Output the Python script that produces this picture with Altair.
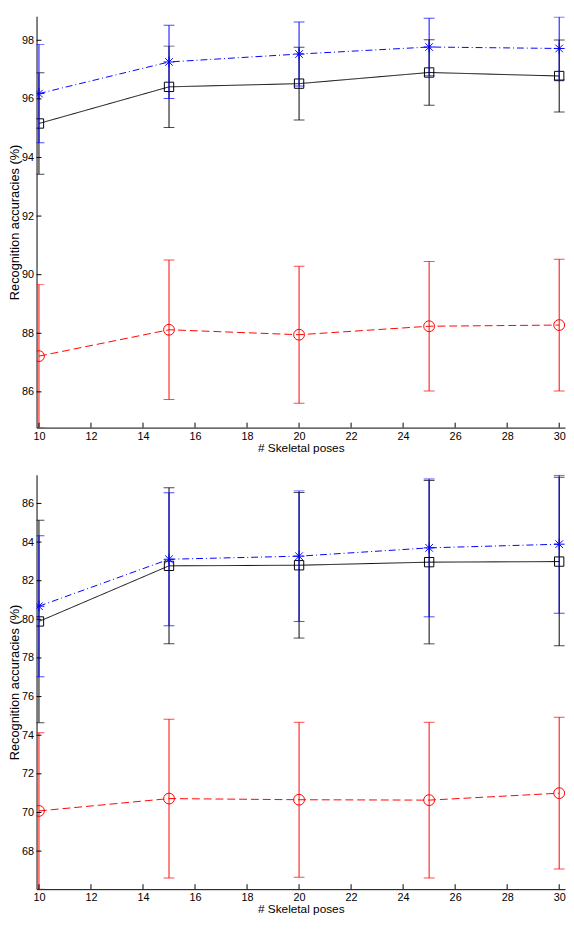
import altair as alt
import pandas as pd

# x positions (number of skeletal poses) and axis ticks
poses = [10, 15, 20, 25, 30]
x_ticks = [10, 12, 14, 16, 18, 20, 22, 24, 26, 28, 30]

# upper panel: mean accuracy and half error bar per series
top_black = [95.16, 96.41, 96.52, 96.90, 96.78]
top_black_err = [1.73, 1.39, 1.24, 1.12, 1.23]
top_blue = [96.18, 97.26, 97.53, 97.77, 97.72]
top_blue_err = [1.68, 1.25, 1.09, 0.98, 1.07]
top_red = [87.22, 88.12, 87.95, 88.24, 88.28]
top_red_err = [2.44, 2.38, 2.34, 2.21, 2.25]
top_y_ticks = [86, 88, 90, 92, 94, 96, 98]

# lower panel
bot_black = [79.89, 82.77, 82.80, 82.96, 82.99]
bot_black_err = [5.24, 4.04, 3.77, 4.23, 4.36]
bot_blue = [80.68, 83.11, 83.27, 83.70, 83.89]
bot_blue_err = [3.65, 3.44, 3.38, 3.57, 3.57]
bot_red = [70.08, 70.72, 70.66, 70.64, 71.00]
bot_red_err = [4.05, 4.11, 4.01, 4.03, 3.93]
bot_y_ticks = [68, 70, 72, 74, 76, 78, 80, 82, 84, 86]

FONT = "Liberation Sans"
WIDTH = 537
X_DOMAIN = [9.907, 30.224]
STAR = "M-1,0L1,0M0,-1L0,1M-0.7,-0.7L0.7,0.7M-0.7,0.7L0.7,-0.7"

# (color, marker shape, marker size, line dash)
styles = {
    "black": ("#000000", "square", 90, [1, 0]),
    "blue": ("#0000ff", STAR, 121, [7, 3, 1, 3]),
    "red": ("#ff0000", "circle", 121, [8, 4]),
}


def frame(means, errs):
    return pd.DataFrame({
        "x": poses,
        "m": means,
        "lo": [m - e for m, e in zip(means, errs)],
        "hi": [m + e for m, e in zip(means, errs)],
    })


def panel(series, y_ticks, y_domain, height):
    x_axis = alt.Axis(values=x_ticks, title="# Skeletal poses", labelPadding=3,
                      titlePadding=1, titleFontSize=12)
    y_axis = alt.Axis(values=y_ticks, format="d", title="Recognition accuracies (%)",
                      labelPadding=3, titlePadding=0, titleFontSize=13)
    x_scale = alt.Scale(domain=X_DOMAIN, nice=False, zero=False)
    y_scale = alt.Scale(domain=y_domain, nice=False, zero=False)

    def X(f):
        return alt.X(f"{f}:Q", scale=x_scale, axis=x_axis)

    def Y(f):
        return alt.Y(f"{f}:Q", scale=y_scale, axis=y_axis)

    layers = []
    for key, (means, errs) in series:
        color, shape, size, dash = styles[key]
        base = alt.Chart(frame(means, errs))
        layers += [
            base.mark_line(color=color, strokeWidth=1, strokeDash=dash, clip=True)
                .encode(x=X("x"), y=Y("m")),
            base.mark_rule(color=color, strokeWidth=1, clip=True)
                .encode(x=X("x"), y=Y("lo"), y2="hi"),
            base.mark_tick(color=color, orient="horizontal", size=11, thickness=1, clip=True)
                .encode(x=X("x"), y=Y("lo")),
            base.mark_tick(color=color, orient="horizontal", size=11, thickness=1, clip=True)
                .encode(x=X("x"), y=Y("hi")),
            base.mark_point(shape=shape, size=size, color=color, filled=False,
                            strokeWidth=1, opacity=1, clip=True)
                .encode(x=X("x"), y=Y("m")),
        ]

    # inward tick marks, as matlab draws them
    xt = alt.Chart(pd.DataFrame({"t": x_ticks})).mark_rule(color="black", strokeWidth=1).encode(
        x=X("t"), y=alt.value(height), y2=alt.value(height - 5))
    yt = alt.Chart(pd.DataFrame({"t": y_ticks})).mark_rule(color="black", strokeWidth=1).encode(
        y=Y("t"), x=alt.value(0), x2=alt.value(5))

    return alt.layer(*layers, xt, yt).properties(width=WIDTH, height=height)


top = panel(
    [("black", (top_black, top_black_err)),
     ("blue", (top_blue, top_blue_err)),
     ("red", (top_red, top_red_err))],
    top_y_ticks, [84.78, 98.82], 418)

bottom = panel(
    [("black", (bot_black, bot_black_err)),
     ("blue", (bot_blue, bot_blue_err)),
     ("red", (bot_red, bot_red_err))],
    bot_y_ticks, [66.03, 87.48], 421)

chart = (
    alt.vconcat(top, bottom, spacing=48, bounds="flush")
    .properties(padding=0, background="white")
    .configure_view(stroke="transparent")
    .configure_axis(
        grid=False,
        ticks=False,
        domainColor="black",
        domainWidth=1,
        labelColor="black",
        titleColor="black",
        labelFont=FONT,
        titleFont=FONT,
        labelFontSize=11,
        titleFontWeight="normal",
        labelFlush=False,
    )
)

chart.save("out.html", embed_options={"renderer": "svg", "actions": False})
